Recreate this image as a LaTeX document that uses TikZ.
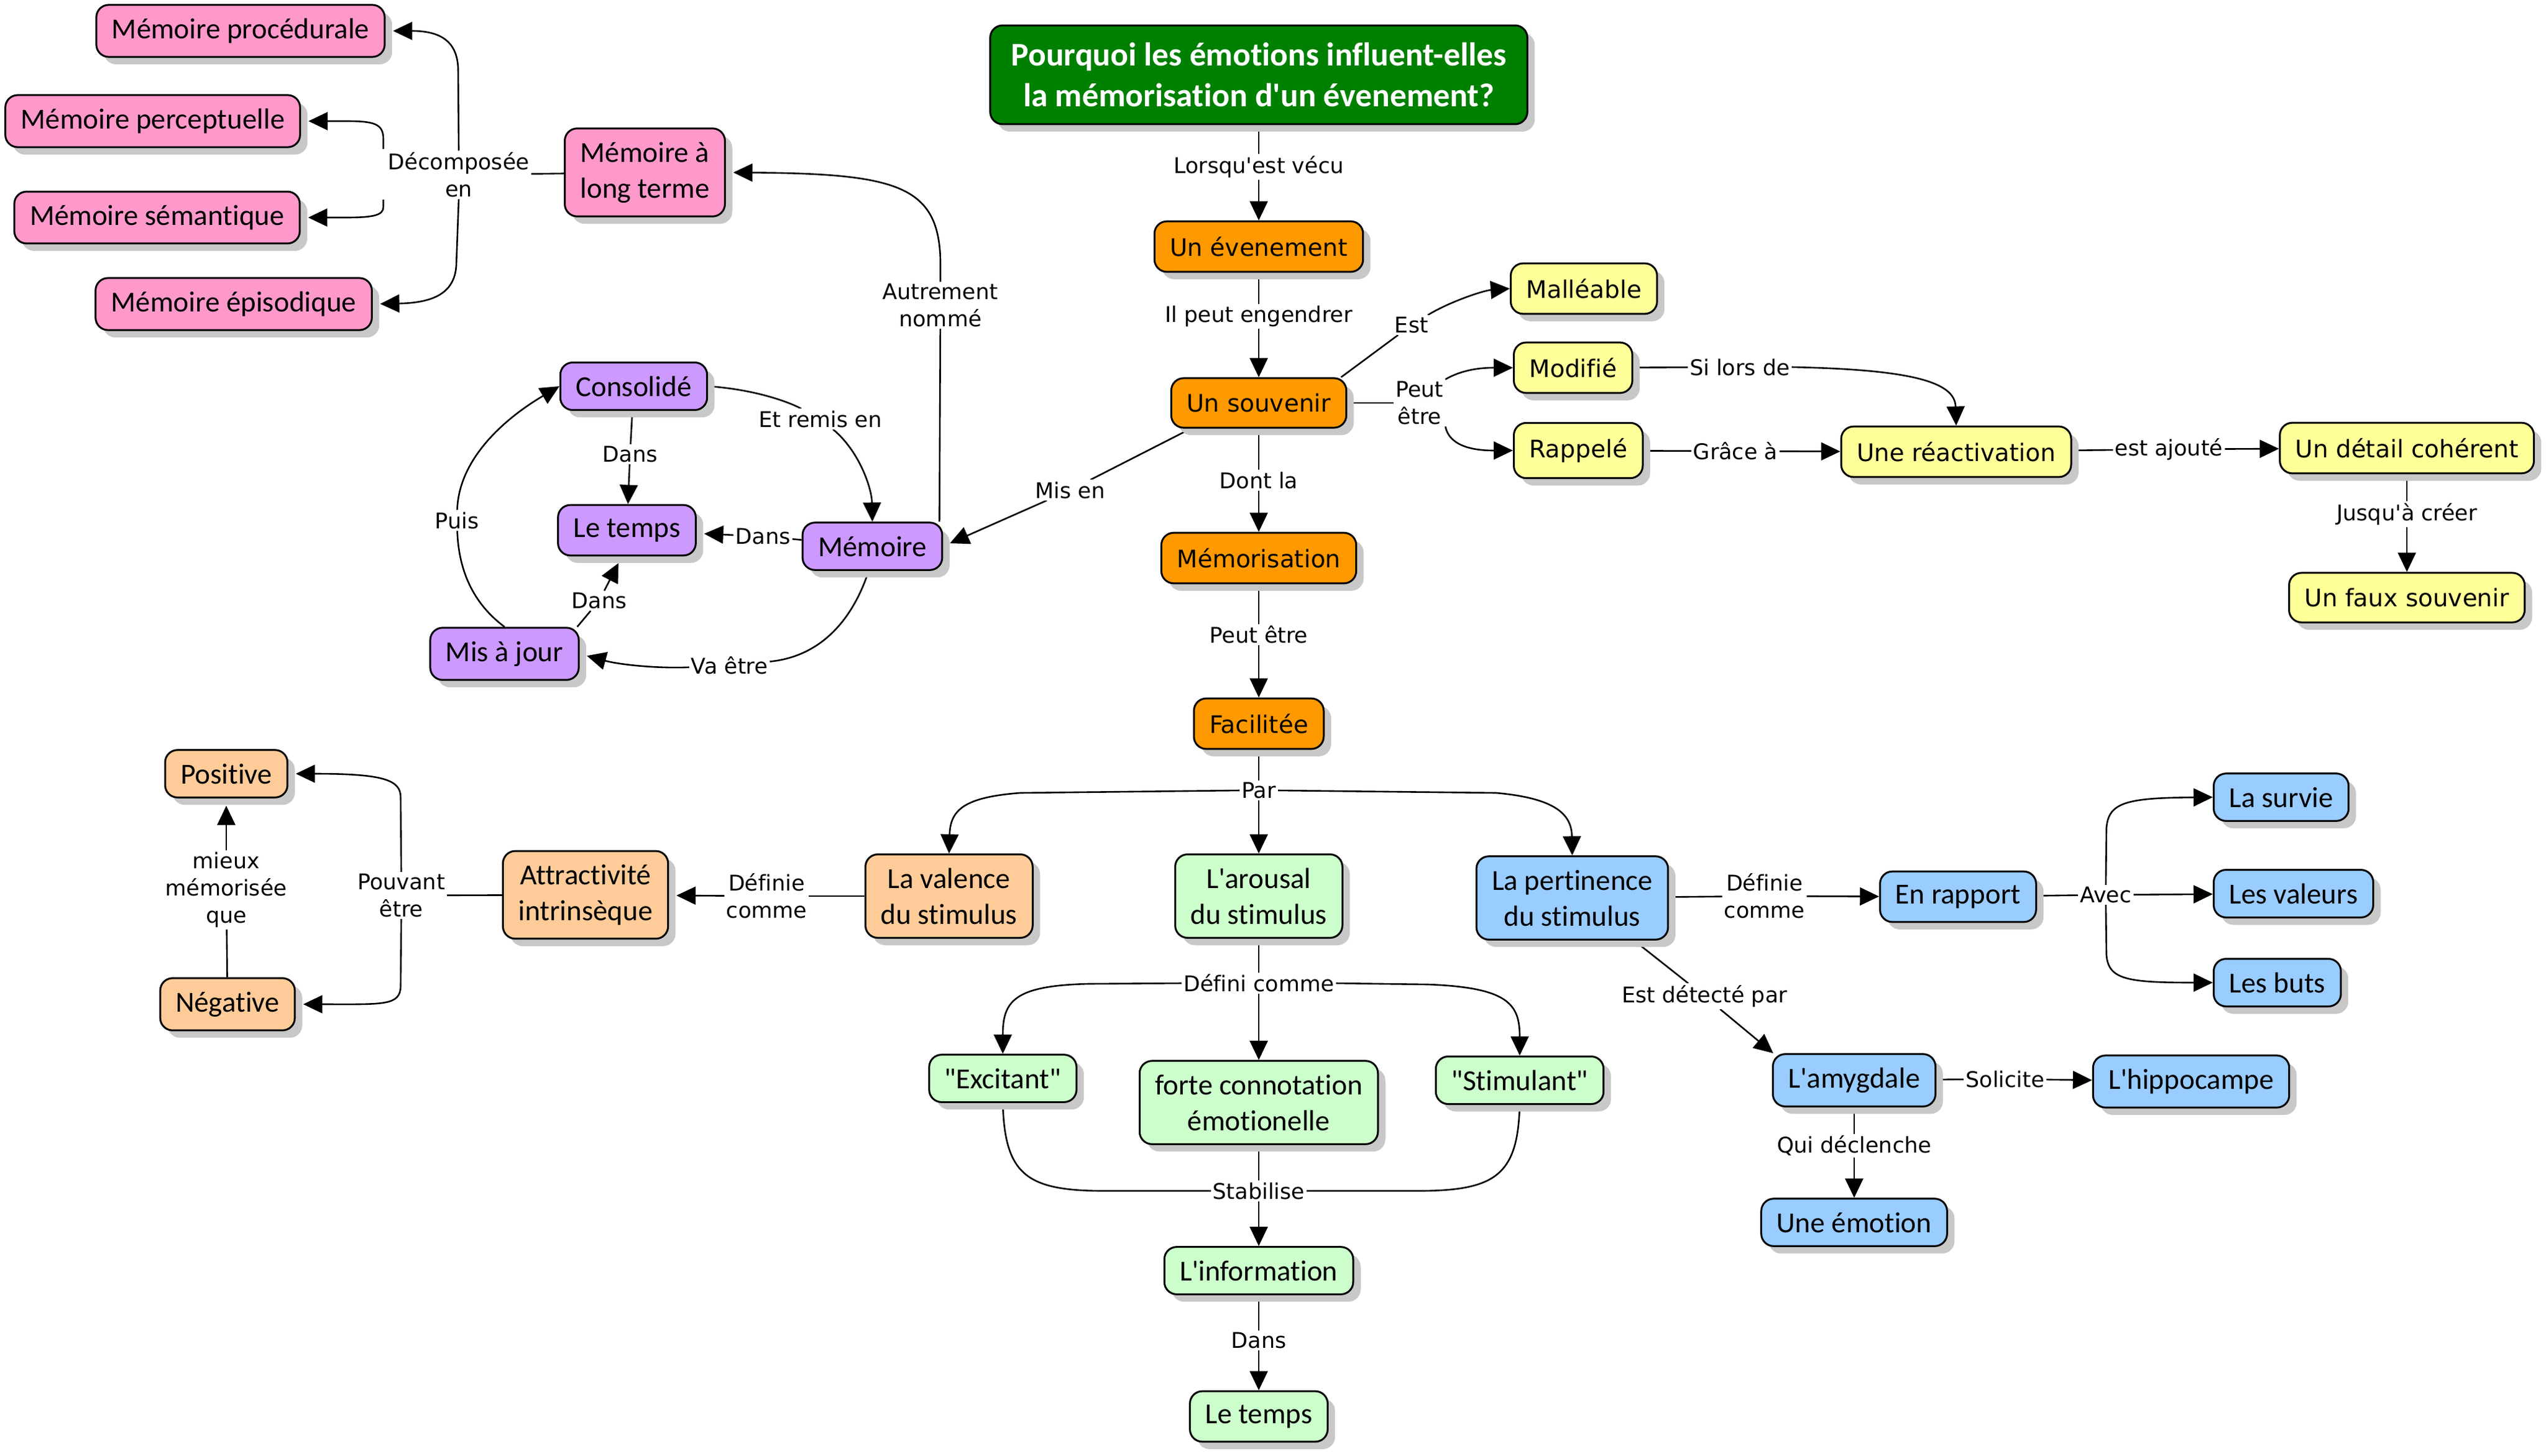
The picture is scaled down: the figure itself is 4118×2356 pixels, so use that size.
\documentclass[tikz,border=0pt]{standalone}
\usepackage{fontspec}
\setmainfont{DejaVu Sans}[Ligatures={TeXOff,NoCommon}]
\newfontfamily\carl{Carlito}[Ligatures={TeXOff,NoCommon}]
\usetikzlibrary{arrows.meta,shadows}
\pgfdeclarelayer{bg}
\pgfsetlayers{bg,main}
\definecolor{cOrange}{RGB}{255,153,0}
\definecolor{cYellow}{RGB}{255,255,153}
\definecolor{cPink}{RGB}{255,153,204}
\definecolor{cPurple}{RGB}{204,153,255}
\definecolor{cPeach}{RGB}{255,204,153}
\definecolor{cGreen}{RGB}{204,255,204}
\definecolor{cBlue}{RGB}{153,204,255}
\definecolor{cTitle}{RGB}{0,128,0}
\definecolor{cShadow}{RGB}{200,200,200}
\tikzset{
  box/.style={draw=black, line width=3pt, rounded corners=20pt,
    general shadow={fill=cShadow, shadow xshift=12pt, shadow yshift=-12pt},
    align=center},
  cbox/.style={box, font=\carl\fontsize{47}{58}\selectfont, inner xsep=25pt, inner ysep=22pt},
  vbox/.style={box, font=\fontsize{39}{47}\selectfont, inner xsep=25pt, inner ysep=25pt},
  ornode/.style={vbox, fill=cOrange},
  yenode/.style={vbox, fill=cYellow},
  pinode/.style={cbox, fill=cPink},
  punode/.style={cbox, fill=cPurple},
  penode/.style={cbox, fill=cPeach},
  grnode/.style={cbox, fill=cGreen},
  blnode/.style={cbox, fill=cBlue},
  titlenode/.style={box, fill=cTitle, text=white,
    font=\carl\bfseries\fontsize{53.5}{66}\selectfont, inner xsep=34pt, inner ysep=28pt},
  lbl/.style={fill=white, inner sep=3pt, font=\fontsize{35}{44}\selectfont, align=center},
  ln/.style={line width=2.6pt},
  arr/.style={ln, -{Triangle[length=31pt,width=29pt]}},
  arrs/.style={arr, shorten >=12pt},
}
\begin{document}
\begin{tikzpicture}[x=1pt,y=-1pt]
\useasboundingbox (0,0) rectangle (4118,2356);
% ---------- concept nodes ----------
\node[titlenode] (title) at (2036,121) {Pourquoi les émotions influent-elles\\la mémorisation d'un évenement?};
\node[ornode] (evt) at (2036,399) {Un évenement};
\node[ornode] (souv) at (2036,652) {Un souvenir};
\node[ornode] (memo) at (2036,903) {Mémorisation};
\node[ornode] (fac) at (2036,1171) {Facilitée};
\node[yenode, anchor=west] (mall) at (2442,467) {Malléable};
\node[yenode, anchor=west] (modif) at (2447,595) {Modifié};
\node[yenode, anchor=west] (rapp) at (2447,729) {Rappelé};
\node[yenode] (react) at (3164,731) {Une réactivation};
\node[yenode] (detail) at (3893,725) {Un détail cohérent};
\node[yenode] (faux) at (3893,967) {Un faux souvenir};
\node[pinode] (proc) at (389,50) {Mémoire procédurale};
\node[pinode] (perc) at (247,196) {Mémoire perceptuelle};
\node[pinode] (sem) at (254,352) {Mémoire sémantique};
\node[pinode] (epi) at (378,492) {Mémoire épisodique};
\node[pinode] (mlt) at (1043,279) {Mémoire à\\long terme};
\node[punode] (conso) at (1025,625) {Consolidé};
\node[punode] (tempsP) at (1014,858) {Le temps};
\node[punode] (memP) at (1411,884) {Mémoire};
\node[punode] (maj) at (816,1058) {Mis à jour};
\node[penode] (pos) at (366,1252) {Positive};
\node[penode] (neg) at (368,1625) {Négative};
\node[penode] (attr) at (947,1448) {Attractivité\\intrinsèque};
\node[penode] (val) at (1535,1450) {La valence\\du stimulus};
\node[grnode] (arou) at (2036,1450) {L'arousal\\du stimulus};
\node[blnode] (pert) at (2543,1453) {La pertinence\\du stimulus};
\node[blnode] (rapport) at (3167,1451) {En rapport};
\node[blnode, anchor=west] (survie) at (3579,1290) {La survie};
\node[blnode, anchor=west] (valeurs) at (3579,1446) {Les valeurs};
\node[blnode, anchor=west] (buts) at (3579,1590) {Les buts};
\node[grnode] (exc) at (1622,1745) {"Excitant"};
\node[grnode] (forte) at (2036,1784) {forte connotation\\émotionelle};
\node[grnode] (stim) at (2458,1748) {"Stimulant"};
\node[grnode] (info) at (2036,2056) {L'information};
\node[grnode] (tempsG) at (2036,2292) {Le temps};
\node[blnode] (amyg) at (2999,1748) {L'amygdale};
\node[blnode] (hippo) at (3544,1750) {L'hippocampe};
\node[blnode] (emo) at (2999,1978) {Une émotion};
% ---------- link labels ----------
\node[lbl] (l1) at (2036,270) {Lorsqu'est vécu};
\node[lbl] (l2) at (2036,512) {Il peut engendrer};
\node[lbl] (l3) at (2036,777) {Dont la};
\node[lbl] (l4) at (2036,1027) {Peut être};
\node[lbl] (l5) at (2036,1279) {Par};
\node[lbl] (l6) at (2283,526) {Est};
\node[lbl] (l7) at (2296,652) {Peut\\être};
\node[lbl] (l8) at (2814,594) {Si lors de};
\node[lbl] (l9) at (2807,730) {Grâce à};
\node[lbl] (l10) at (3508,727) {est ajouté};
\node[lbl] (l11) at (3893,832) {Jusqu'à créer};
\node[lbl] (l12) at (1731,793) {Mis en};
\node[lbl] (l13) at (1521,494) {Autrement\\nommé};
\node[lbl] (l14) at (742,283) {Décomposée\\en};
\node[lbl] (l15) at (1234,868) {Dans};
\node[lbl] (l16) at (1019,735) {Dans};
\node[lbl] (l17) at (969,972) {Dans};
\node[lbl] (l18) at (1327,678) {Et remis en};
\node[lbl] (l19) at (1180,1077) {Va être};
\node[lbl] (l20) at (739,842) {Puis};
\node[lbl] (l21) at (1240,1450) {Définie\\comme};
\node[lbl] (l22) at (649,1449) {Pouvant\\être};
\node[lbl] (l23) at (366,1440) {mieux\\mémorisée\\que};
\node[lbl] (l24) at (2036,1591) {Défini comme};
\node[lbl] (l25) at (2036,1927) {Stabilise};
\node[lbl] (l26) at (2036,2169) {Dans};
\node[lbl] (l27) at (2854,1450) {Définie\\comme};
\node[lbl] (l28) at (2757,1612) {Est détecté par};
\node[lbl] (l29) at (3406,1448) {Avec};
\node[lbl] (l30) at (3243,1746) {Solicite};
\node[lbl] (l31) at (2999,1854) {Qui déclenche};
\coordinate (dA) at (620,241);
\coordinate (dB) at (620,323);
% ---------- connectors ----------
\begin{pgfonlayer}{bg}
\draw[ln] (title) -- (l1); \draw[arr] (l1) -- (evt);
\draw[ln] (evt) -- (l2); \draw[arr] (l2) -- (souv);
\draw[ln] (souv) -- (l3); \draw[arr] (l3) -- (memo);
\draw[ln] (memo) -- (l4); \draw[arr] (l4) -- (fac);
\draw[ln] (fac) -- (l5); \draw[arr] (l5) -- (arou);
\draw[arr] (l5.west) -- (1650,1283) .. controls (1560,1290) and (1537,1310) .. (val.north);
\draw[arr] (l5.east) -- (2420,1283) .. controls (2520,1292) and (2542,1320) .. (pert.north);
\draw[ln] ([xshift=-10pt]souv.north east) -- (l6);
\draw[arr] (l6) .. controls (2345,488) and (2400,470) .. (mall.west);
\draw[ln] (souv.east) -- (l7);
\draw[arr] (l7.north east) .. controls (2365,598) and (2395,595) .. (modif.west);
\draw[arr] (l7.south east) .. controls (2345,725) and (2390,729) .. (rapp.west);
\draw[ln] (modif) -- (l8);
\draw[arr] (l8.east) .. controls (3100,598) and (3162,620) .. (react.north);
\draw[ln] (rapp) -- (l9); \draw[arr] (l9) -- (react);
\draw[ln] (react) -- (l10); \draw[arr] (l10) -- (detail);
\draw[ln] (detail) -- (l11); \draw[arr] (l11) -- (faux);
\draw[ln] ([xshift=-110pt]souv.south) -- (l12); \draw[arrs] (l12) -- (memP.east);
\draw[ln] ([xshift=-6pt]memP.north east) -- (l13);
\draw[arrs] (l13.north) -- (1521,421) .. controls (1518,300) and (1450,281) .. (mlt.east);
\draw[ln] (mlt) -- (l14);
\draw[arrs] (l14.north) -- (741,110) .. controls (739,65) and (710,50) .. (proc.east);
\draw[arrs] (dA) -- (620,225) .. controls (620,200) and (605,196) .. (560,196) -- (perc.east);
\draw[arrs] (dB) -- (620,335) .. controls (620,348) and (605,352) .. (560,352) -- (sem.east);
\draw[arrs] (l14.south) -- (738,430) .. controls (735,475) and (700,490) .. (epi.east);
\draw[ln] (memP) -- (l15); \draw[arrs] (l15) -- (tempsP);
\draw[ln] (conso) -- (l16); \draw[arr] (l16) -- (tempsP);
\draw[ln] ([xshift=-4pt]maj.north east) -- (l17);
\draw[arrs] (l17) -- ([xshift=-8pt]tempsP.south);
\draw[ln] (conso.east) .. controls (1220,630) and (1275,650) .. (l18);
\draw[arr] (l18) .. controls (1390,730) and (1410,790) .. (memP.north);
\draw[ln] ([xshift=-6pt]memP.south) .. controls (1380,1000) and (1330,1062) .. (l19);
\draw[arrs] (l19) .. controls (1060,1082) and (1000,1075) .. (maj.east);
\draw[ln] (maj.north) .. controls (770,980) and (742,930) .. (l20);
\draw[arr] (l20) .. controls (742,740) and (820,675) .. (conso.west);
\draw[ln] (val) -- (l21); \draw[arrs] (l21) -- (attr);
\draw[ln] (attr) -- (l22);
\draw[arrs] (l22.north) -- (648,1290) .. controls (648,1262) and (620,1252) .. (pos.east);
\draw[arrs] (l22.south) -- (648,1595) .. controls (648,1628) and (620,1625) .. (neg.east);
\draw[ln] (neg) -- (l23); \draw[arrs] (l23) -- (pos);
\draw[ln] (arou) -- (l24); \draw[arr] (l24) -- (forte);
\draw[arr] (l24.west) -- (1760,1592) .. controls (1640,1595) and (1622,1620) .. (exc.north);
\draw[arr] (l24.east) -- (2310,1593) .. controls (2440,1598) and (2458,1625) .. (stim.north);
\draw[ln] (exc.south) .. controls (1625,1900) and (1660,1926) .. (1780,1927) -- (l25.west);
\draw[ln] (stim.south) .. controls (2455,1900) and (2420,1926) .. (2300,1927) -- (l25.east);
\draw[ln] (forte) -- (l25); \draw[arr] (l25) -- (info);
\draw[ln] (info) -- (l26); \draw[arr] (l26) -- (tempsG);
\draw[ln] (pert) -- (l27); \draw[arr] (l27) -- (rapport);
\draw[ln] ([xshift=100pt]pert.south) -- (l28);
\draw[arr] (l28) -- ([xshift=2pt]amyg.north west);
\draw[ln] (rapport) -- (l29); \draw[arr] (l29) -- (valeurs);
\draw[arr] (l29.north) -- (3407,1340) .. controls (3410,1298) and (3440,1291) .. (survie.west);
\draw[arr] (l29.south) -- (3407,1545) .. controls (3410,1585) and (3440,1590) .. (buts.west);
\draw[ln] (amyg) -- (l30); \draw[arr] (l30) -- (hippo);
\draw[ln] (amyg) -- (l31); \draw[arr] (l31) -- (emo);
\end{pgfonlayer}
\end{tikzpicture}
\end{document}
